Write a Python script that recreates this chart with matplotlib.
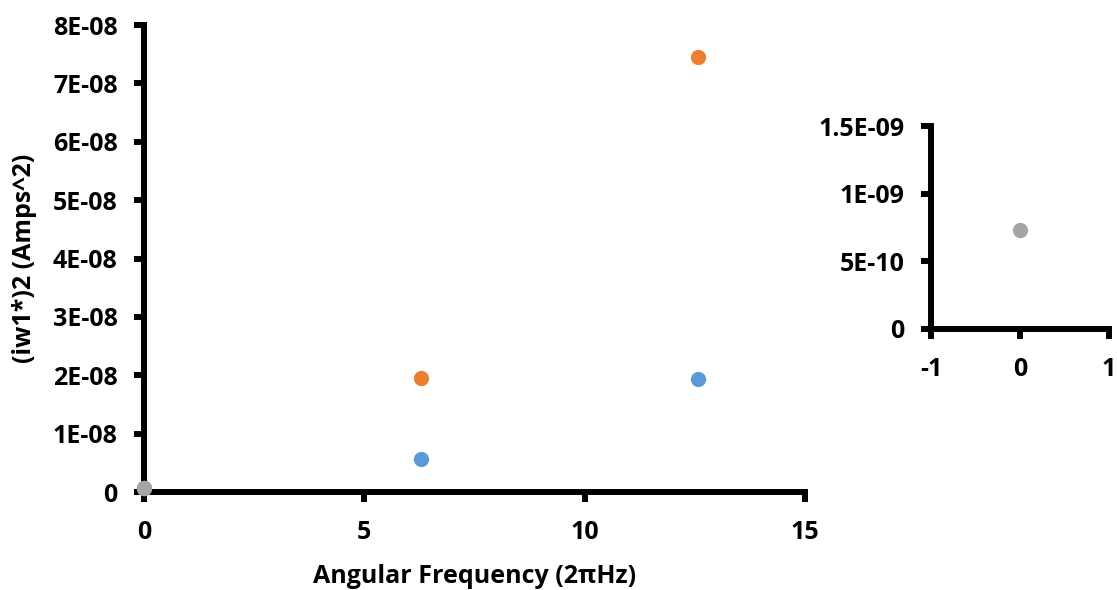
import numpy as np
import matplotlib
matplotlib.use("Agg")
import matplotlib.pyplot as plt

plt.rcParams['font.family'] = ['Open Sans', 'DejaVu Sans']
plt.rcParams['font.weight'] = 'bold'
plt.rcParams['axes.unicode_minus'] = False

# data
omega = [0.0, 6.283, 12.566]
series_blue = [7.3e-10, 5.7e-09, 1.93e-08]
series_orange = [7.3e-10, 1.95e-08, 7.45e-08]
gray_x = [0.0]
gray_y = [7.3e-10]

main_yticks = [0, 1e-08, 2e-08, 3e-08, 4e-08, 5e-08, 6e-08, 7e-08, 8e-08]
main_ylabels = ['0', '1E-08', '2E-08', '3E-08', '4E-08', '5E-08', '6E-08', '7E-08', '8E-08']
main_xticks = [0, 5, 10, 15]
inset_yticks = [0, 5e-10, 1e-09, 1.5e-09]
inset_ylabels = ['0', '5E-10', '1E-09', '1.5E-09']
inset_xticks = [-1, 0, 1]

blue = '#5B9BD5'
orange = '#ED7D31'
gray = '#A5A5A5'
FS = 18


def style_axes(ax):
    for side in ['top', 'right']:
        ax.spines[side].set_visible(False)
    for side in ['left', 'bottom']:
        ax.spines[side].set_linewidth(4.3)
        ax.spines[side].set_capstyle('projecting')
    ax.tick_params(direction='out', length=7, width=4.3, labelsize=FS)
    ax.tick_params(axis='x', pad=13)
    ax.tick_params(axis='y', pad=12)
    for lab in ax.get_xticklabels() + ax.get_yticklabels():
        lab.set_fontweight('bold')


fig = plt.figure(figsize=(11.17, 5.9), dpi=100)

ax = fig.add_axes([0.1289, 0.1661, 0.5918, 0.7915])
ax.plot(omega, series_blue, 'o', color=blue, ms=11, mec='none', zorder=3, clip_on=False)
ax.plot(omega, series_orange, 'o', color=orange, ms=11, mec='none', zorder=3, clip_on=False)
ax.plot(gray_x, gray_y, 'o', color=gray, ms=11, mec='none', zorder=4, clip_on=False)
ax.set_xlim(0, 15)
ax.set_ylim(0, 8e-08)
ax.set_xticks(main_xticks)
ax.set_yticks(main_yticks)
ax.set_yticklabels(main_ylabels)
ax.set_xlabel('Angular Frequency (2πHz)', fontsize=FS, fontweight='bold', labelpad=14)
ax.set_ylabel('(iw1*)2 (Amps^2)', fontsize=FS, fontweight='bold', labelpad=11)
style_axes(ax)

ins = fig.add_axes([0.8335, 0.4424, 0.1594, 0.344])
ins.plot(gray_x, gray_y, 'o', color=gray, ms=11, mec='none', zorder=3)
ins.set_xlim(-1, 1)
ins.set_ylim(0, 1.5e-09)
ins.set_xticks(inset_xticks)
ins.set_yticks(inset_yticks)
ins.set_yticklabels(inset_ylabels)
style_axes(ins)

fig.savefig('out.png', dpi=100)
